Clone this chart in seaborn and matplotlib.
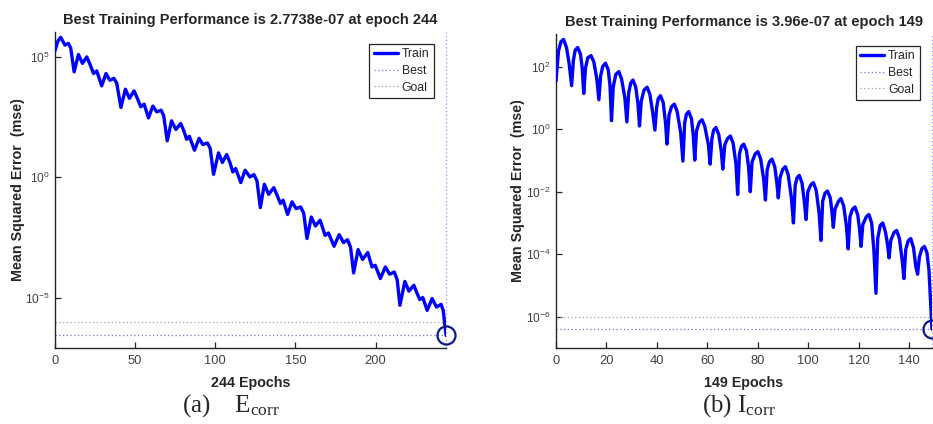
import numpy as np
import pandas as pd
import seaborn as sns
import matplotlib.pyplot as plt
from matplotlib.ticker import FixedLocator, NullLocator, LogFormatterSciNotation
from matplotlib.lines import Line2D

# (a) E_corr training curve: epoch, log10(mse)
epochs_a = [0, 1.8, 3.5, 6.2, 8.3, 9.8, 11.9, 14.6, 17.1, 19.8, 22.0, 24.0, 26.0,
            29.1, 31.8, 34.2, 36.7, 38.5, 41.1, 43.9, 46.4, 49.3, 51.5, 53.5, 55.6,
            58.3, 61.0, 63.5, 66.2, 67.8, 70.0, 72.7, 75.4, 78.4, 80.5, 82.1, 83.8,
            87.0, 89.9, 92.2, 95.1, 96.8, 98.9, 102.0, 104.4, 107.1, 109.2, 110.9,
            112.7, 115.9, 118.6, 121.6, 124.1, 126.0, 128.1, 130.6, 133.3, 136.5,
            138.6, 140.6, 142.3, 145.1, 147.9, 150.4, 153.3, 155.2, 157.2, 159.9,
            162.5, 165.4, 167.0, 168.5, 170.6, 174.1, 177.3, 180.0, 182.5, 184.4,
            186.3, 189.1, 191.9, 195.1, 197.8, 199.8, 203.0, 206.1, 208.8, 211.7,
            213.5, 215.2, 218.3, 220.8, 223.9, 225.8, 227.6, 229.5, 232.2, 235.3,
            238.0, 240.9, 242.2, 244.0]
log_mse_a = [5.25, 5.65, 5.80, 5.48, 5.55, 5.35, 4.37, 5.09, 4.72, 4.99, 4.65, 4.30, 4.41,
             3.79, 4.30, 4.02, 4.10, 3.90, 2.89, 3.65, 3.27, 3.58, 3.25, 2.92, 3.03,
             2.46, 2.95, 2.71, 2.78, 2.55, 1.51, 2.34, 1.98, 2.23, 1.90, 1.57, 1.70,
             1.12, 1.61, 1.36, 1.42, 1.20, 0.12, 1.01, 0.61, 0.94, 0.60, 0.22,
             0.36, -0.22, 0.29, 0.01, 0.11, -0.15, -1.26, -0.29, -0.71, -0.43,
             -0.75, -1.09, -0.95, -1.54, -1.02, -1.30, -1.23, -1.50, -2.54, -1.65,
             -2.02, -1.78, -2.10, -2.41, -2.31, -2.86, -2.38, -2.71, -2.59, -2.90,
             -3.97, -3.00, -3.41, -3.12, -3.72, -3.65, -4.20, -3.72, -4.02, -3.93,
             -4.25, -5.31, -4.32, -4.72, -4.48, -4.80, -5.07, -4.99, -5.52, -5.03,
             -5.38, -5.27, -5.52, -6.557]

# (b) I_corr training curve
epochs_b = [0, 1.0, 2.0, 3.0, 4.2, 5.2, 6.2, 6.9, 7.6, 8.6, 9.7, 10.4, 11.0,
            11.7, 12.6, 13.9, 15.0, 16.2, 17.0, 17.7, 18.5, 19.6, 20.7, 21.4, 22.0,
            22.7, 23.7, 24.9, 26.0, 27.3, 28.1, 28.8, 29.6, 30.5, 31.6, 32.5, 33.1,
            33.8, 34.9, 36.1, 37.2, 38.3, 39.2, 39.9, 40.5, 41.4, 42.5, 43.4, 44.0,
            44.8, 45.8, 46.9, 48.0, 49.4, 50.3, 51.0, 51.7, 52.6, 53.7, 54.4, 55.0,
            55.7, 56.8, 57.9, 59.0, 60.4, 61.1, 61.8, 62.5, 63.4, 64.5, 65.5, 66.1,
            66.9, 68.0, 69.1, 70.2, 71.3, 72.0, 72.7, 73.5, 74.4, 75.5, 76.3, 77.0,
            77.7, 78.9, 80.0, 81.1, 82.3, 83.0, 83.7, 84.6, 85.6, 86.7, 87.5, 88.1,
            88.8, 89.9, 90.9, 92.0, 93.3, 94.1, 94.8, 95.5, 96.4, 97.5, 98.4, 99.1,
            99.8, 101.0, 102.0, 103.1, 104.3, 105.0, 105.7, 106.6, 107.6, 108.7, 109.3, 109.9,
            110.6, 112.0, 112.9, 114.0, 115.1, 115.8, 116.5, 117.5, 118.5, 119.6, 120.3, 120.9,
            121.6, 123.0, 124.0, 125.1, 126.0, 126.8, 127.5, 128.5, 129.5, 130.6, 131.4, 132.0,
            132.7, 134.0, 135.0, 136.1, 137.2, 137.9, 138.6, 139.6, 140.6, 141.7, 142.6, 143.3,
            144.0, 145.0, 146.0, 147.0, 147.8, 149.0]
log_mse_b = [1.53, 2.50, 2.80, 2.87, 2.60, 2.10, 1.39, 2.20, 2.52, 2.61, 2.40, 1.95, 1.14,
             1.95, 2.28, 2.35, 2.15, 1.60, 0.94, 1.70, 2.00, 2.11, 1.90, 1.40, 0.27,
             1.35, 1.75, 1.84, 1.60, 1.00, 0.23, 1.15, 1.47, 1.57, 1.35, 0.80, 0.10,
             0.90, 1.25, 1.34, 1.12, 0.55, -0.03, 0.70, 0.97, 1.07, 0.85, 0.20, -0.48,
             0.45, 0.72, 0.80, 0.57, -0.10, -1.02, 0.20, 0.48, 0.56, 0.33, -0.20, -0.99,
             -0.05, 0.22, 0.30, 0.08, -0.50, -1.12, -0.30, -0.03, 0.05, -0.17, -0.70, -1.28,
             -0.50, -0.30, -0.22, -0.45, -1.10, -2.09, -0.80, -0.55, -0.48, -0.70, -1.20, -2.00,
             -1.05, -0.80, -0.72, -0.95, -1.60, -2.27, -1.30, -1.04, -0.96, -1.20, -1.70, -2.20,
             -1.55, -1.28, -1.20, -1.45, -2.20, -3.00, -1.80, -1.56, -1.48, -1.72, -2.30, -2.89,
             -2.00, -1.78, -1.71, -1.95, -2.70, -3.56, -2.30, -2.05, -1.98, -2.20, -2.60, -3.14,
             -2.55, -2.30, -2.22, -2.45, -3.10, -3.83, -2.80, -2.56, -2.49, -2.75, -3.20, -3.75,
             -3.05, -2.80, -2.73, -3.00, -3.90, -5.25, -3.50, -3.08, -3.00, -3.30, -3.70, -4.12,
             -3.55, -3.30, -3.24, -3.50, -4.20, -4.78, -3.85, -3.57, -3.50, -3.80, -4.40, -4.64,
             -4.10, -3.82, -3.75, -3.95, -4.50, -6.40]

best_perf = [2.7738e-07, 3.96e-07]
best_epoch = [244, 149]
goal = [1e-6, 1e-6]
y_ticks = [[1e5, 1e0, 1e-5], [1e2, 1e0, 1e-2, 1e-4, 1e-6]]
x_ticks = [[0, 50, 100, 150, 200], [0, 20, 40, 60, 80, 100, 120, 140]]
y_lims = [(8.3e-8, 1.05e6), (1e-7, 1.1e3)]

sns.set_style("ticks")
plt.rcParams["font.family"] = ["Liberation Sans", "DejaVu Sans"]
plt.rcParams["mathtext.default"] = "regular"

fig = plt.figure(figsize=(9.33, 4.24), dpi=100)
ax_a = fig.add_axes([0.0590, 0.1792, 0.4191, 0.7453])
ax_b = fig.add_axes([0.5959, 0.1792, 0.4030, 0.7406])

curves = [(epochs_a, log_mse_a), (epochs_b, log_mse_b)]
txt_col = "#262626"
best_col = "#7070e0"
goal_col = "#a0a0a0"
dot = (0, (1, 2))
for i, ax in enumerate([ax_a, ax_b]):
    ep, lg = curves[i]
    df = pd.DataFrame({"epoch": ep, "mse": 10 ** np.array(lg)})
    sns.lineplot(data=df, x="epoch", y="mse", ax=ax, color="#0000ff", lw=2.4,
                 solid_joinstyle="round", zorder=3)
    ax.set_yscale("log")
    ax.set_xlim(0, best_epoch[i])
    ax.set_ylim(*y_lims[i])
    # best / goal markers
    ax.axhline(best_perf[i], color=best_col, ls=dot, lw=0.9, zorder=2)
    ax.axvline(best_epoch[i], color="#9090ea", ls=dot, lw=0.9, zorder=2, clip_on=False)
    ax.axhline(goal[i], color=goal_col, ls=dot, lw=0.9, zorder=2)
    ax.plot([best_epoch[i]], [best_perf[i]], marker="o", ms=13, mfc="none",
            mec="#0a1a8c", mew=1.6, clip_on=False, zorder=4)

    ax.yaxis.set_major_locator(FixedLocator(y_ticks[i]))
    ax.yaxis.set_major_formatter(LogFormatterSciNotation())
    ax.yaxis.set_minor_locator(NullLocator())
    ax.xaxis.set_major_locator(FixedLocator(x_ticks[i]))
    ax.tick_params(direction="in", length=4, width=0.9, colors=txt_col,
                   labelcolor="#404040", pad=5)
    ax.tick_params(axis="x", labelsize=9.3)
    ax.tick_params(axis="y", labelsize=8.6, pad=4)
    sns.despine(ax=ax, top=True, right=True)
    for s in ["left", "bottom"]:
        ax.spines[s].set_color(txt_col)
        ax.spines[s].set_linewidth(1.0)

    ax.set_title(f"Best Training Performance is {best_perf[i]:.5g} at epoch {best_epoch[i]}",
                 fontsize=10.5, fontweight="bold", pad=6)
    ax.set_xlabel(f"{best_epoch[i]} Epochs", fontsize=10.3, fontweight="bold")
    ax.set_ylabel("Mean Squared Error  (mse)", fontsize=10.3, fontweight="bold")
    ax.xaxis.set_label_coords(0.5, -0.088)
    ax.yaxis.set_label_coords([-0.078, -0.083][i], 0.5)

    handles = [Line2D([], [], color="#0000ff", lw=2.4),
               Line2D([], [], color=best_col, ls=dot, lw=0.9),
               Line2D([], [], color=goal_col, ls=dot, lw=0.9)]
    leg = ax.legend(handles, ["Train", "Best", "Goal"], loc="upper right",
                    bbox_to_anchor=(0.968, 0.963), fontsize=8.8, frameon=True,
                    fancybox=False, framealpha=1, edgecolor="#262626",
                    handlelength=2.0, handletextpad=0.3, borderpad=0.35,
                    labelspacing=0.4, borderaxespad=0)
    leg.get_frame().set_linewidth(0.9)

fig.text(0.2476, 0.043, "(a)    E$_{corr}$", family="Liberation Serif",
         fontsize=18, ha="center", va="center")
fig.text(0.7915, 0.043, "(b) I$_{corr}$", family="Liberation Serif",
         fontsize=18, ha="center", va="center")

fig.savefig("out.png", dpi=100)
